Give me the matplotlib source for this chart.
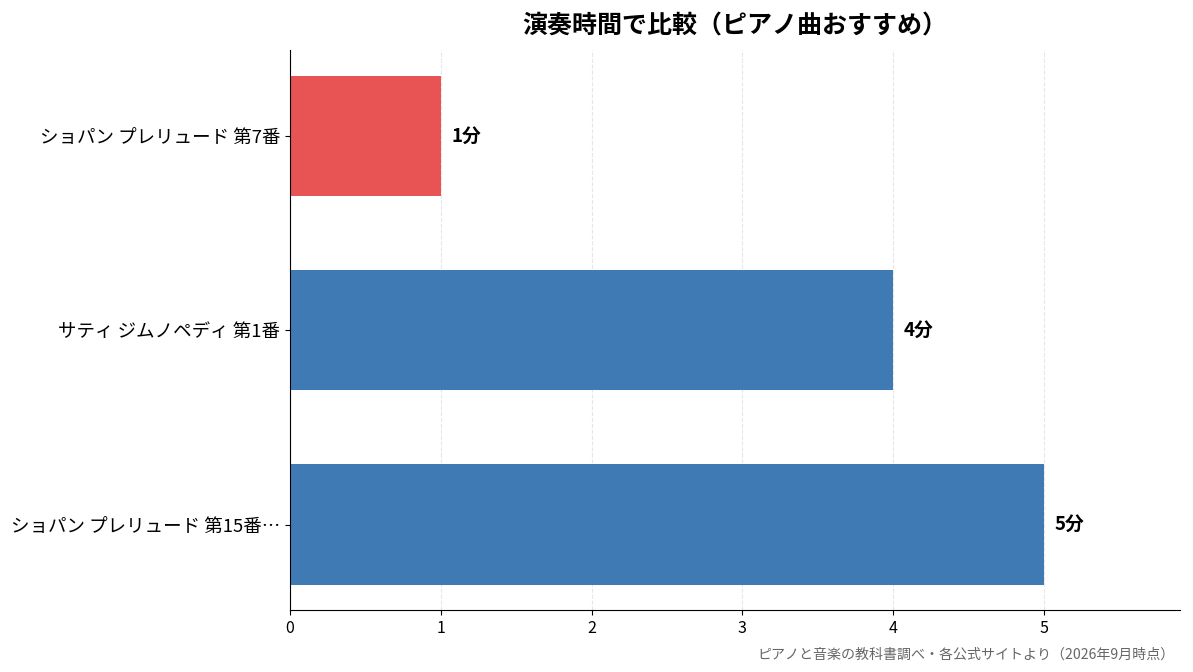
import matplotlib
matplotlib.use('Agg')
import matplotlib.pyplot as plt

plt.rcParams['font.family'] = ['Noto Sans CJK JP', 'DejaVu Sans']

songs = ['ショパン プレリュード 第7番', 'サティ ジムノペディ 第1番', 'ショパン プレリュード 第15番…']
minutes = [1, 4, 5]
value_labels = ['1分', '4分', '5分']
colors = ['#E85353', '#3F7AB5', '#3F7AB5']
title = '演奏時間で比較（ピアノ曲おすすめ）'
source = 'ピアノと音楽の教科書調べ・各公式サイトより（2026年9月時点）'

fig, ax = plt.subplots(figsize=(11.93, 6.72), dpi=100)
fig.subplots_adjust(left=0.243, right=0.989, top=0.925, bottom=0.092)

pos = list(range(len(songs)))
ax.barh(pos, minutes, height=0.62, color=colors, zorder=2)
ax.set_yticks(pos)
ax.set_yticklabels(songs, fontsize=13.3)
ax.invert_yaxis()
ax.set_xlim(0, 5.9)
ax.set_xticks([0, 1, 2, 3, 4, 5])
ax.tick_params(axis='x', labelsize=11.5)

for p, v, lab in zip(pos, minutes, value_labels):
    ax.text(v + 0.07, p, lab, va='center', ha='left', fontsize=13.5, fontweight='bold')

ax.grid(axis='x', linestyle='--', color='#e6e6e6', linewidth=0.8, zorder=0)
ax.spines['top'].set_visible(False)
ax.spines['right'].set_visible(False)

ax.set_title(title, fontsize=18, fontweight='bold', pad=12)
fig.text(0.985, 0.015, source, ha='right', va='bottom', fontsize=10.1, color='#666666')

fig.savefig('out.png', dpi=100)
